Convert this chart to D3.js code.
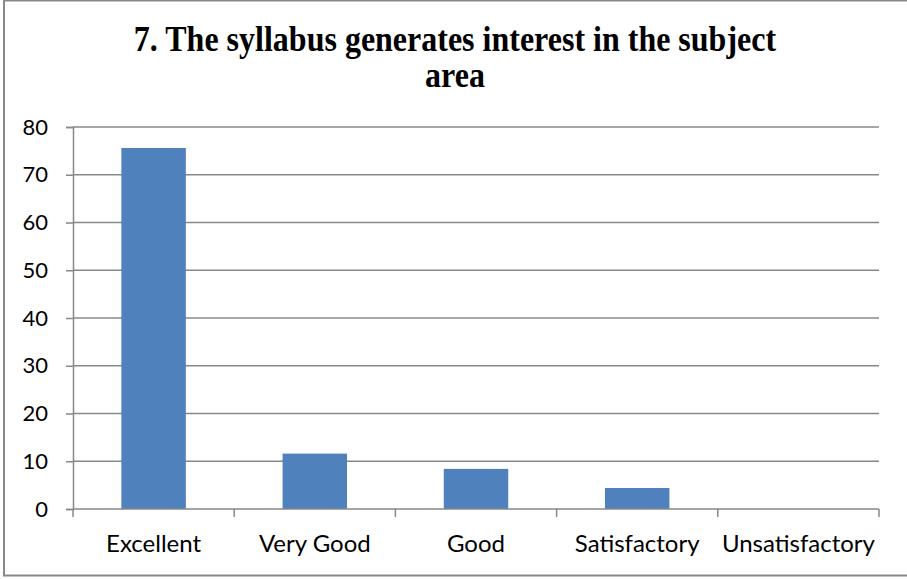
<!DOCTYPE html>
<html>
<head>
<meta charset="utf-8">
<script src="https://cdn.jsdelivr.net/npm/d3@7"></script>
<style>
  body { margin: 0; background: #fff; }
  svg { display: block; }
  .tick text { font-family: Lato, "Liberation Sans", sans-serif; font-size: 22px; fill: #000; }
</style>
</head>
<body>
<svg></svg>
<script>
let svgWidth = 907
let svgHeight = 579

// data
let categories = ['Excellent', 'Very Good', 'Good', 'Satisfactory', 'Unsatisfactory']
let values = [75.6, 11.6, 8.4, 4.4, 0]
let yTicks = [0, 10, 20, 30, 40, 50, 60, 70, 80]
let titleLines = ['7. The syllabus generates interest in the subject', 'area']

let margin = {left: 73, top: 127, right: 28, bottom: 70}
let plotW = svgWidth - margin.left - margin.right
let plotH = svgHeight - margin.top - margin.bottom

let svg = d3.select('svg')
    .attr('width', svgWidth)
    .attr('height', svgHeight)

// outer frame (right edge runs off the picture)
svg.append('rect')
    .attr('x', 4).attr('y', 0.5)
    .attr('width', svgWidth + 10).attr('height', 575)
    .attr('fill', '#fff')
    .attr('stroke', '#888').attr('stroke-width', 2)

// title is a bit taller than plain Times in the reference, so stretch it vertically
let titleStretch = 1.12
svg.append('g')
    .attr('transform', `scale(1,${titleStretch})`)
    .selectAll('.title').data(titleLines)
    .enter()
    .append('text')
    .attr('class', 'title')
    .attr('x', 455)
    .attr('y', (d, i) => (51 + i * 36) / titleStretch)
    .attr('text-anchor', 'middle')
    .style('font-family', '"Liberation Serif", "Times New Roman", serif')
    .style('font-weight', 'bold')
    .style('font-size', '32px')
    .text(d => d)

let g = svg.append('g').attr('transform', `translate(${margin.left},${margin.top})`)

const xScale = d3.scaleBand()
    .domain(categories)
    .range([0, plotW])
    .paddingInner(0.6).paddingOuter(0.3)

const xEdge = d3.scaleLinear().domain([0, categories.length]).range([0, plotW])

const yScale = d3.scaleLinear()
    .domain([0, 80])
    .range([plotH, 0])

// gridlines + y axis
let yAxis = g.append('g')
    .call(d3.axisLeft(yScale).tickValues(yTicks).tickSize(7).tickPadding(18))
yAxis.select('.domain').attr('stroke', '#888').attr('stroke-width', 1.5)
yAxis.selectAll('.tick line').attr('stroke', '#888').attr('stroke-width', 1.5)

g.selectAll('.grid').data(yTicks.filter(d => d > 0))
    .enter()
    .append('line')
    .attr('class', 'grid')
    .attr('x1', 0).attr('x2', plotW)
    .attr('y1', d => yScale(d)).attr('y2', d => yScale(d))
    .attr('stroke', '#888').attr('stroke-width', 1.5)

// bars
g.selectAll('rect.bar').data(values)
    .enter()
    .append('rect')
    .attr('class', 'bar')
    .attr('x', (d, i) => xScale(categories[i]))
    .attr('y', d => yScale(d))
    .attr('width', xScale.bandwidth())
    .attr('height', d => plotH - yScale(d))
    .attr('fill', '#4f81bd')

// x axis baseline + boundary ticks
g.append('line')
    .attr('x1', 0).attr('x2', plotW)
    .attr('y1', plotH).attr('y2', plotH)
    .attr('stroke', '#888').attr('stroke-width', 1.5)

g.selectAll('.xtick').data(d3.range(categories.length + 1))
    .enter()
    .append('line')
    .attr('class', 'xtick')
    .attr('x1', d => xEdge(d)).attr('x2', d => xEdge(d))
    .attr('y1', plotH).attr('y2', plotH + 8)
    .attr('stroke', '#888').attr('stroke-width', 1.5)

g.selectAll('.xlabel').data(categories)
    .enter()
    .append('text')
    .attr('class', 'xlabel')
    .attr('x', d => xScale(d) + xScale.bandwidth() / 2)
    .attr('y', plotH + 43)
    .attr('text-anchor', 'middle')
    .style('font-family', 'Lato, "Liberation Sans", sans-serif')
    .style('font-size', '24px')
    .text(d => d)
</script>
</body>
</html>
